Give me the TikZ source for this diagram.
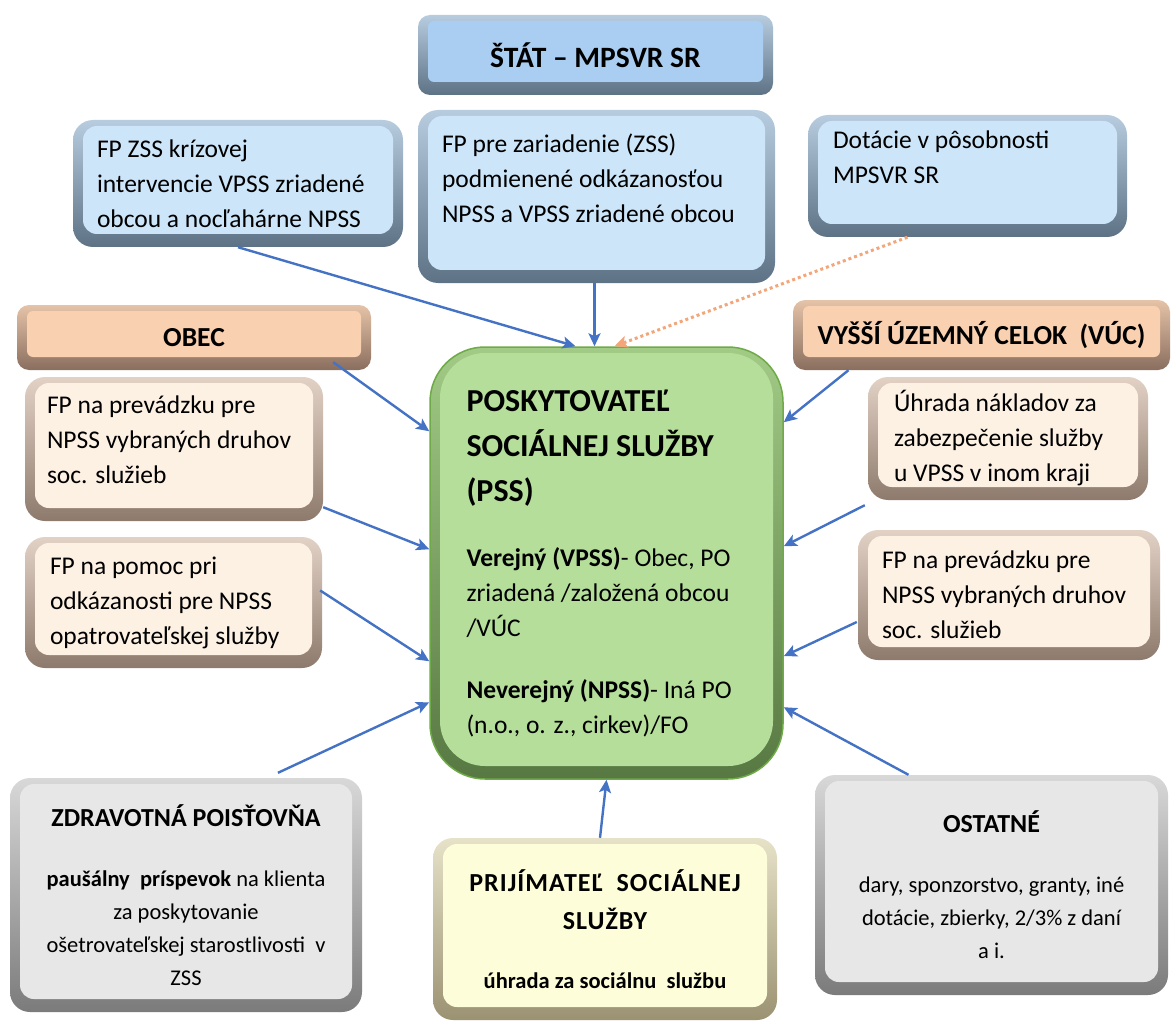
\documentclass[tikz,border=0pt]{standalone}
\usepackage{fontspec}
\setmainfont{Carlito}
\usepackage{tikz}
\usetikzlibrary{arrows.meta, positioning}
\setlength{\parindent}{0pt}

\definecolor{arrblue}{HTML}{4472C4}
\definecolor{dotorange}{HTML}{F2A679}
\definecolor{bluetop}{HTML}{B8CCE0}
\definecolor{bluebot}{HTML}{5E7286}
\definecolor{blueface}{HTML}{CDE5F9}
\definecolor{statface}{HTML}{A9CEF1}
\definecolor{orgtop}{HTML}{E5C3A8}
\definecolor{orgbot}{HTML}{8A6E5E}
\definecolor{orgface}{HTML}{F9D0B0}
\definecolor{crmtop}{HTML}{E2D2C5}
\definecolor{crmbot}{HTML}{8D7A6D}
\definecolor{crmface}{HTML}{FDF1E4}
\definecolor{grntop}{HTML}{A2CB86}
\definecolor{grnbot}{HTML}{577842}
\definecolor{grnface}{HTML}{B4DE9A}
\definecolor{grnline}{HTML}{6EAA48}
\definecolor{grytop}{HTML}{D8D8D8}
\definecolor{grybot}{HTML}{7B7B7B}
\definecolor{gryface}{HTML}{E7E7E7}
\definecolor{ylwtop}{HTML}{E6E2C8}
\definecolor{ylwbot}{HTML}{9B9272}
\definecolor{ylwface}{HTML}{FEFDD9}

\newcommand\bodyfont{\fontsize{25.5}{35}\selectfont\mdseries}
\newcommand\headfont{\fontsize{27.5}{35}\selectfont\bfseries}
\newcommand\pssfont{\fontsize{32}{45}\selectfont\bfseries}
\newcommand\boxhead{\fontsize{26}{38}\selectfont\bfseries}
\newcommand\smallbody{\fontsize{22.5}{33}\selectfont}

\begin{document}
\begin{tikzpicture}[x=1pt, y=-1pt,
  comp/.style={rounded corners=20pt, inner xsep=24pt, inner ysep=0pt,
    font=\bodyfont, align=flush left, text=black},
  bevel/.style n args={4}{top color=#1, bottom color=#2,
    path picture={\fill[#3, rounded corners=#4]
      ([shift={(10pt,-6pt)}]path picture bounding box.north west) rectangle
      ([shift={(-10pt,13pt)}]path picture bounding box.south east);}},
  bluebox/.style={comp, bevel={bluetop}{bluebot}{blueface}{14pt}},
  crmbox/.style={comp, bevel={crmtop}{crmbot}{crmface}{14pt}},
  grybox/.style={comp, bevel={grytop}{grybot}{gryface}{14pt}, align=center},
  headbar/.style={comp, rounded corners=12pt, font=\headfont, align=center},
  arr/.style={-{Stealth[length=13pt, width=12pt, inset=3pt]}, line width=2.4pt, arrblue},
  dotarr/.style={-{Stealth[length=13pt, width=12pt, inset=3pt]}, line width=3pt,
    dash pattern=on 3pt off 3pt, dotorange}
]
  \useasboundingbox (0,0) rectangle (1173,1027);

  % State
  \node[headbar, bevel={bluetop}{bluebot}{statface}{6pt},
    font=\fontsize{29.5}{35}\selectfont\bfseries,
    minimum width=355pt, minimum height=80pt] (stat) at (595.5,55)
    {ŠTÁT – MPSVR SR};
  \node[bluebox, minimum width=357pt, minimum height=173pt, text width=309pt]
    (zar) at (596.5,196.5)
    {FP pre zariadenie (ZSS)\\podmienené odkázanosťou\\NPSS a VPSS zriadené obcou\par\vspace{36pt}};
  \node[bluebox, minimum width=330pt, minimum height=127pt, text width=282pt]
    (krz) at (238,183.5)
    {FP ZSS krízovej\\intervencie VPSS zriadené\\obcou a nocľahárne NPSS};
  \node[bluebox, inner xsep=25pt, minimum width=319pt, minimum height=122pt,
    text width=269pt] (dot) at (967.5,176)
    {Dotácie v pôsobnosti\\MPSVR SR\par\vspace{37pt}};

  % Municipality and region
  \node[headbar, bevel={orgtop}{orgbot}{orgface}{6pt},
    minimum width=354pt, minimum height=65pt] (obec) at (194,337.5) {OBEC};
  \node[headbar, bevel={orgtop}{orgbot}{orgface}{6pt},
    minimum width=377pt, minimum height=70pt] (vuc) at (981.5,335)
    {VYŠŠÍ ÚZEMNÝ CELOK\ \ (VÚC)};
  \node[crmbox, inner xsep=22pt, minimum width=298pt, minimum height=144pt,
    text width=254pt] (prl) at (174,449)
    {FP na prevádzku pre\\NPSS vybraných druhov\\soc. služieb\par\vspace{19pt}};
  \node[crmbox, inner xsep=25pt, minimum width=297pt, minimum height=131pt,
    text width=247pt] (pom) at (173.5,602.5)
    {FP na pomoc pri\\odkázanosti pre NPSS\\opatrovateľskej služby};
  \node[crmbox, inner xsep=26pt, minimum width=280pt, minimum height=123pt,
    text width=228pt] (uhr) at (1008,438.5)
    {Úhrada nákladov za\\zabezpečenie služby\\u VPSS v inom kraji};
  \node[crmbox, minimum width=302pt, minimum height=130pt, text width=254pt]
    (prr) at (1009,595)
    {FP na prevádzku pre\\NPSS vybraných druhov\\soc. služieb};

  % Provider
  \node[comp, rounded corners=55pt, bevel={grntop}{grnbot}{grnface}{45pt},
    draw=grnline, line width=1.5pt, inner xsep=36.5pt,
    minimum width=353pt, minimum height=432pt, text width=280pt]
    (pss) at (606.5,563)
    {\pssfont POSKYTOVATEĽ\\SOCIÁLNEJ SLUŽBY\\(PSS)\par\vspace{30pt}
     \bodyfont\textbf{Verejný (VPSS)}- Obec, PO\\zriadená /založená obcou\\/VÚC\par\vspace{27pt}
     \textbf{Neverejný (NPSS)}- Iná PO\\(n.o., o. z., cirkev)/FO};

  % Bottom row
  \node[grybox, font=\smallbody, minimum width=352pt, minimum height=234pt]
    (zp) at (186,895)
    {\boxhead ZDRAVOTNÁ POISŤOVŇA\\[27pt]
     \smallbody\textbf{paušálny\ \ príspevok} na klienta\\
     \smallbody za poskytovanie\\
     \smallbody ošetrovateľskej starostlivosti\ \ v\\
     \smallbody ZSS};
  \node[comp, bevel={ylwtop}{ylwbot}{ylwface}{14pt}, align=center, font=\boxhead,
    minimum width=344pt, minimum height=182pt] (prij) at (605,929)
    {{\boxhead\addfontfeatures{LetterSpace=4}PRIJÍMATEĽ\ \ SOCIÁLNEJ}\\
     {\boxhead\addfontfeatures{LetterSpace=4}SLUŽBY}\\[21pt]
     \smallbody\bfseries úhrada za sociálnu\ \ službu};
  \node[grybox, font=\smallbody, minimum width=353pt, minimum height=220pt]
    (ost) at (991.5,885)
    {\boxhead OSTATNÉ\\[27pt]
     \smallbody dary, sponzorstvo,\ granty, iné\\
     \smallbody dotácie, zbierky, 2/3\% z daní\\
     \smallbody a i.};

  % Arrows
  \draw[arr] (krz.south) -- ([xshift=-31pt]pss.north);
  \draw[arr] ([xshift=-2pt]zar.south) -- ([xshift=-12pt]pss.north);
  \draw[dotarr] ([xshift=-60pt]dot.south) -- ([xshift=8pt]pss.north);
  \draw[arr] ([xshift=-38pt, yshift=8pt]obec.south east) -- ([yshift=-85pt]pss.north west);
  \draw[arr] ([yshift=14pt]prl.south east) -- ([yshift=-203pt]pss.north west);
  \draw[arr] ([xshift=-2pt, yshift=12pt]pom.east) -- ([yshift=-315pt]pss.north west);
  \draw[arr] ([xshift=92pt, yshift=5pt]zp.north) -- ([yshift=-356pt]pss.north west);
  \draw[arr] ([xshift=-5pt]prij.north) -- (pss.south);
  \draw[arr] ([xshift=-83pt]ost.north) -- ([yshift=-361pt]pss.north east);
  \draw[arr] ([xshift=-133pt]vuc.south) -- ([yshift=-76pt]pss.north east);
  \draw[arr] ([xshift=-3pt, yshift=-5pt]uhr.south west) -- ([yshift=-200pt]pss.north east);
  \draw[arr] ([xshift=-1pt, yshift=-27pt]prr.west) -- ([yshift=-310pt]pss.north east);
\end{tikzpicture}
\end{document}
